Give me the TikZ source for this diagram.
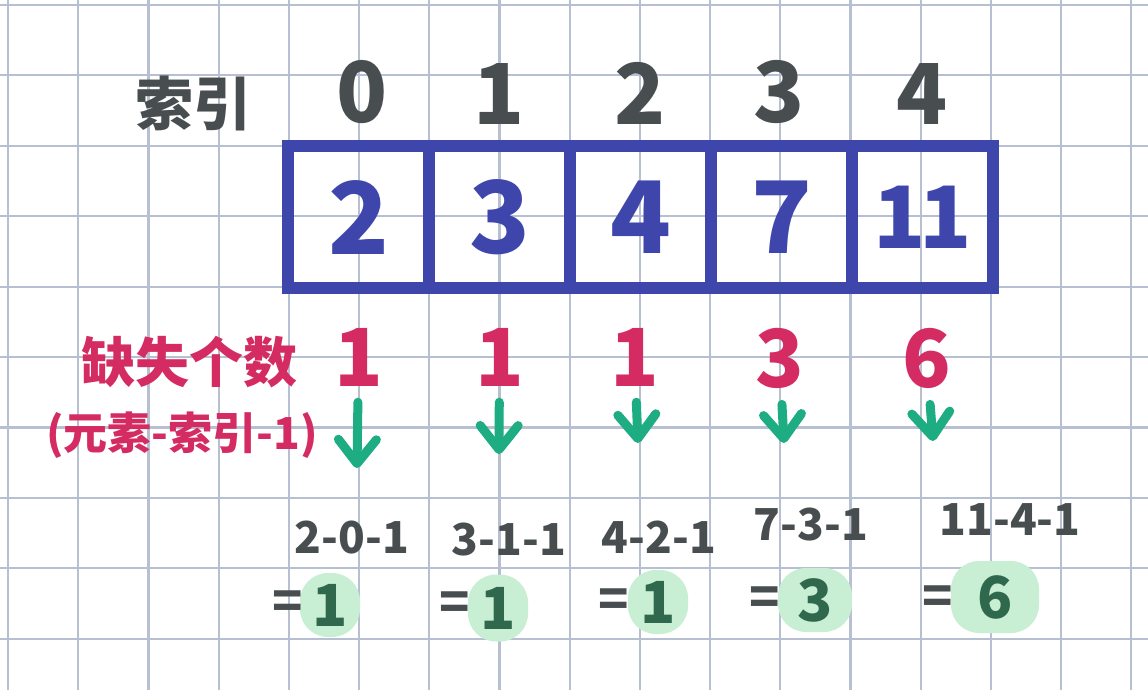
\documentclass[tikz,border=0pt]{standalone}
\usepackage{fontspec}
\setmainfont{Noto Sans CJK SC}
\usepackage{tikz}
\usetikzlibrary{arrows.meta, positioning}

\definecolor{gridc}{RGB}{182,192,210}
\definecolor{boxblue}{RGB}{62,70,172}
\definecolor{inkgray}{RGB}{72,78,80}
\definecolor{inkred}{RGB}{212,44,98}
\definecolor{arrowgreen}{RGB}{30,172,130}
\definecolor{blobgreen}{RGB}{200,238,212}
\definecolor{darkgreen}{RGB}{48,104,78}

\begin{document}
\begin{tikzpicture}[x=1pt, y=-1pt]
\tikzstyle{gridline} = [draw=gridc, line width=2.2pt]
\tikzstyle{cell} = [rectangle, draw=boxblue, line width=12pt, minimum width=141pt, minimum height=141.5pt, inner sep=0pt, outer sep=0pt, text=boxblue, font=\bfseries\fontsize{100}{100}\selectfont]
\tikzstyle{idx} = [inner sep=0pt, text=inkgray, font=\bfseries\fontsize{84}{84}\selectfont]
\tikzstyle{cnt} = [inner sep=0pt, text=inkred, font=\bfseries\fontsize{80}{80}\selectfont]
\tikzstyle{title} = [inner sep=0pt, text=inkgray, font=\bfseries\fontsize{58}{58}\selectfont]
\tikzstyle{titlered} = [inner sep=0pt, text=inkred, font=\bfseries\fontsize{54}{54}\selectfont]
\tikzstyle{rule} = [inner sep=0pt, text=inkred, font=\bfseries\fontsize{44}{44}\selectfont]
\tikzstyle{calc} = [inner sep=0pt, text=inkgray, font=\bfseries\fontsize{44}{44}\selectfont]
\tikzstyle{res} = [rectangle, rounded corners=28pt, fill=blobgreen, minimum width=60pt, minimum height=64pt, inner sep=0pt, text=darkgreen, font=\bfseries\fontsize{58}{58}\selectfont]
\tikzstyle{eqs} = [inner sep=0pt, text=inkgray, font=\bfseries\fontsize{50}{50}\selectfont]
\tikzstyle{arrow} = [draw=arrowgreen, line width=9pt, line cap=round, shorten <=16pt, -{Straight Barb[length=24pt, width=38pt, line cap=round, line join=round]}]

% paper
\useasboundingbox (0,0) rectangle (1148,690);
\fill[white] (0,0) rectangle (1148,690);
\foreach \i in {0,...,16} \draw[gridline] ({8+70.2*\i},0) -- ({8+70.2*\i},690);
\foreach \j in {0,...,9} \draw[gridline] (0,{5+70.4*\j}) -- (1148,{5+70.4*\j});

% array
\node (c0) [cell] at (358.5,217) {2};
\node (c1) [cell, right=0pt of c0] {3};
\node (c2) [cell, right=0pt of c1] {4};
\node (c3) [cell, right=0pt of c2] {7};
\node (c4) [cell, right=0pt of c3, font=\bfseries\fontsize{86}{86}\selectfont] {1\kern-6pt1};

% index row
\node (idxtitle) [title] at (193,103) {索引};
\node (i0) [idx, above=22pt of c0, xshift=4pt] {0};
\node (i1) [idx, above=22pt of c1] {1};
\node (i2) [idx, above=22pt of c2] {2};
\node (i3) [idx, above=22pt of c3, xshift=-2pt] {3};
\node (i4) [idx, above=22pt of c4] {4};

% missing counts
\node (cnttitle) [titlered] at (189,362) {缺失个数};
\node (rule) [rule] at (182,435) {(元素-索引-1)};
\node (m0) [cnt, below=40pt of c0] {1};
\node (m1) [cnt, below=40pt of c1] {1};
\node (m2) [cnt, below=40pt of c2, xshift=-6pt] {1};
\node (m3) [cnt, below=40pt of c3, xshift=-2pt] {3};
\node (m4) [cnt, below=40pt of c4, xshift=4pt] {6};

% working
\node (f0) [calc] at (352,538) {2-0-1};
\node (f1) [calc] at (509,540) {3-1-1};
\node (f2) [calc] at (659,537) {4-2-1};
\node (f3) [calc] at (811,525) {7-3-1};
\node (f4) [calc] at (1010,520) {11-4-1};

\node (r0) [res] at (330,605) {1};
\node (r1) [res, minimum height=67pt] at (498,608) {1};
\node (r2) [res] at (658,602) {1};
\node (r3) [res, minimum width=74pt] at (815,600) {3};
\node (r4) [res, minimum width=88pt, minimum height=72pt] at (995,597) {6};
\node (e0) [eqs] at (288,605) {=};
\node (e1) [eqs] at (455,606) {=};
\node (e2) [eqs] at (614,603) {=};
\node (e3) [eqs] at (765,601) {=};
\node (e4) [eqs] at (938,600) {=};

\coordinate (t0) at (357,468);
\coordinate (t1) at (499,454);
\coordinate (t2) at (638,443);
\coordinate (t3) at (784,443);
\coordinate (t4) at (933,441);
\draw [arrow] (m0) -- (t0);
\draw [arrow] (m1) -- (t1);
\draw [arrow] (m2) -- (t2);
\draw [arrow] (m3) -- (t3);
\draw [arrow] (m4) -- (t4);
\end{tikzpicture}
\end{document}
